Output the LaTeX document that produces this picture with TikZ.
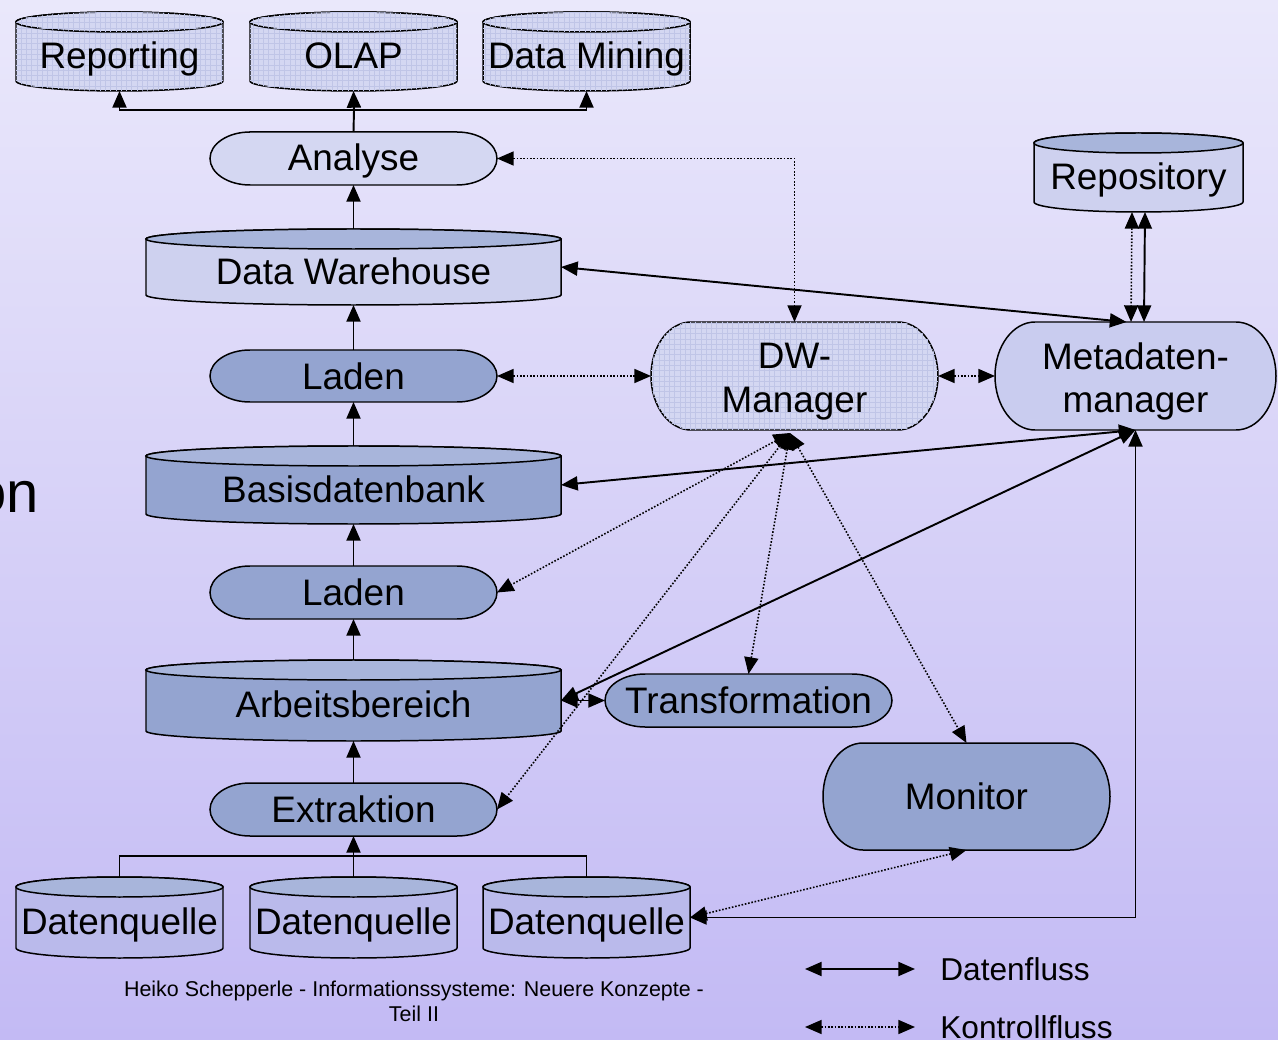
\documentclass[tikz,border=0pt]{standalone}
\usepackage{fontspec}
\setmainfont{Liberation Sans}
\usetikzlibrary{arrows.meta,calc,patterns}
\definecolor{bgtop}{RGB}{234,232,251}
\definecolor{bgbot}{RGB}{195,186,244}
\definecolor{lite}{RGB}{212,215,242}
\definecolor{gridcol}{RGB}{192,197,231}
\definecolor{cylbody}{RGB}{206,209,239}
\definecolor{cyltop}{RGB}{168,181,219}
\definecolor{med}{RGB}{148,164,208}
\definecolor{metafill}{RGB}{201,204,239}
\definecolor{dqbody}{RGB}{186,186,235}

\tikzset{
  shapeline/.style={draw=black, line width=0.85pt},
  lbl/.style={font=\fontsize{21}{24.5}\selectfont, align=center, inner sep=0pt},
  oneline/.style={text height=15.5pt, text depth=4.5pt},
  anchorbox/.style={inner sep=0pt, outer sep=0pt, draw=none},
  hatched/.style={fill=lite, postaction={pattern=grid, pattern color=gridcol}},
  data/.style={line width=1.1pt},
  ctrl/.style={line width=0.9pt, densely dotted},
  legtext/.style={font=\fontsize{18}{21}\selectfont, anchor=west, inner sep=0pt},
}

% cylinder: name, x1, y1, x2, y2, body style, top style, text
\newcommand{\mycyl}[8]{%
  \path[shapeline, #6] (#2,#3+10) -- (#2,#5-10)
     arc[start angle=180, end angle=0, x radius={(#4-#2)/2}, y radius=10]
     -- (#4,#3+10)
     arc[start angle=0, end angle=-180, x radius={(#4-#2)/2}, y radius=10] -- cycle;
  \path[shapeline, #7] ({(#2+#4)/2},#3+10) ellipse[x radius={(#4-#2)/2}, y radius=10];
  \node[anchorbox, minimum width={(#4-#2)*0.02cm}, minimum height={(#5-#3)*0.02cm},
        label={[lbl, oneline, yshift=-4.4pt]center:#8}] (#1) at ({(#2+#4)/2},{(#3+#5)/2}) {};
}
% stadium: name, x1, y1, x2, y2, style, text, label options
\newcommand{\mystad}[8]{%
  \path[shapeline, #6] (#2+40,#3) -- (#4-40,#3)
     arc[start angle=-90, end angle=90, x radius=40, y radius={(#5-#3)/2}]
     -- (#2+40,#5)
     arc[start angle=90, end angle=270, x radius=40, y radius={(#5-#3)/2}] -- cycle;
  \node[anchorbox, minimum width={(#4-#2)*0.02cm}, minimum height={(#5-#3)*0.02cm},
        label={[lbl, #8]center:#7}] (#1) at ({(#2+#4)/2},{(#3+#5)/2}) {};
}

\begin{document}
\begin{tikzpicture}[x=0.02cm, y=-0.02cm, >={Triangle[length=9.5pt,width=8pt]}]
\useasboundingbox (0,0) rectangle (1278,1040);
\clip (0,0) rectangle (1278,1040);
\shade[top color=bgtop, bottom color=bgbot] (0,0) rectangle (1278,1040);

\node[anchor=base east, font=\fontsize{33}{36}\selectfont, inner sep=0pt] (on) at (39,512) {on};

% top cylinders
\mycyl{reporting}{16}{12}{223}{91}{hatched}{hatched}{Reporting}
\mycyl{olap}{250}{12}{457}{91}{hatched}{hatched}{OLAP}
\mycyl{mining}{483}{12}{690}{91}{hatched}{hatched}{Data Mining}

% main column
\mystad{analyse}{210}{132}{497}{185}{fill=lite}{Analyse}{oneline, yshift=-1.6pt}
\mycyl{dw}{146}{229}{561}{305}{fill=cylbody}{fill=cyltop}{Data Warehouse}
\mystad{laden1}{210}{350}{497}{402}{fill=med}{Laden}{oneline, yshift=-2pt}
\mycyl{basis}{146}{446}{561}{524}{fill=med}{fill=cyltop}{Basisdatenbank}
\mystad{laden2}{210}{566}{497}{619}{fill=med}{Laden}{oneline, yshift=-2pt}
\mycyl{arb}{146}{660}{561}{741}{fill=med}{fill=cyltop}{Arbeitsbereich}
\mystad{extr}{210}{783}{497}{836}{fill=med}{Extraktion}{oneline, yshift=-2pt}

% sources
\mycyl{dq1}{16}{877}{223}{958}{fill=dqbody}{fill=cyltop}{Datenquelle}
\mycyl{dq2}{250}{877}{457}{958}{fill=dqbody}{fill=cyltop}{Datenquelle}
\mycyl{dq3}{483}{877}{690}{958}{fill=dqbody}{fill=cyltop}{Datenquelle}

% right side
\mycyl{rep}{1034}{133}{1243}{212}{fill=cylbody}{fill=cyltop}{Repository}
\mystad{dwm}{651}{322}{938}{430}{hatched}{DW-\\Manager}{yshift=-3.2pt}
\mystad{meta}{995}{322}{1276}{430}{fill=metafill}{Metadaten-\\manager}{yshift=-3pt}
\mystad{trans}{605}{674}{892}{727}{fill=med}{Transformation}{oneline, yshift=-2pt}
\mystad{monitor}{823}{743}{1110}{850}{fill=med}{Monitor}{oneline, yshift=-2pt}

% data flow, main column
\coordinate (tj) at (354,110);
\draw[data] (analyse.north) -- (tj);
\draw[data,->] (tj) -- (olap.south);
\draw[data,->] (tj) -| (reporting.south);
\draw[data,->] (tj) -| (mining.south);
\draw[data,->] (dw.north) -- (analyse.south);
\draw[data,->] (laden1.north) -- (dw.south);
\draw[data,->] (basis.north) -- (laden1.south);
\draw[data,->] (laden2.north) -- (basis.south);
\draw[data,->] (arb.north) -- (laden2.south);
\draw[data,->] (extr.north) -- (arb.south);
\coordinate (bj) at (354,856);
\draw[data] (dq1.north) |- (bj) -| (dq3.north);
\draw[data,->] (dq2.north) -- (extr.south);

% data flow, metadata
\draw[data,<->] (dw.east) -- ($(meta.north)+(-9,0)$);
\draw[data,<->] ($(rep.south)+(6.5,0)$) -- ($(meta.north)+(8.5,0)$);
\draw[data,<->] (basis.east) -- (meta.south);
\draw[data,<->] (arb.east) -- (meta.south);
\draw[data,<->] (dq3.east) -| (meta.south);
\draw[data,<->] (arb.east) -- (trans.west);

% control flow
\draw[ctrl,<->] ($(rep.south)+(-6.5,0)$) -- ($(meta.north)+(-4.5,0)$);
\draw[ctrl,<->] (analyse.east) -| (dwm.north);
\draw[ctrl,<->] (laden1.east) -- (dwm.west);
\draw[ctrl,<->] (dwm.east) -- (meta.west);
\coordinate (dwb) at (790,433);
\draw[ctrl,<->] (dwb) -- (laden2.east);
\draw[ctrl,<->] (dwb) -- (extr.east);
\draw[ctrl,<->] (dwb) -- (trans.north);
\draw[ctrl,<->] (dwb) -- (monitor.north);
\draw[ctrl,<->] (monitor.south) -- (dq3.east);

% legend
\coordinate (l1a) at (805,969);
\coordinate (l1b) at (915,969);
\draw[data,<->] (l1a) -- (l1b);
\node[legtext] (leg1) at (940,969) {Datenfluss};
\coordinate (l2a) at (805,1027);
\coordinate (l2b) at (915,1027);
\draw[ctrl,<->] (l2a) -- (l2b);
\node[legtext] (leg2) at (940,1027) {Kontrollfluss};

% footer
\node[font=\fontsize{12.2}{14.2}\selectfont, align=center, inner sep=0pt] (foot) at (414,1001)
  {Heiko Schepperle - Informationssysteme: Neuere Konzepte -\\Teil II};
\end{tikzpicture}
\end{document}
